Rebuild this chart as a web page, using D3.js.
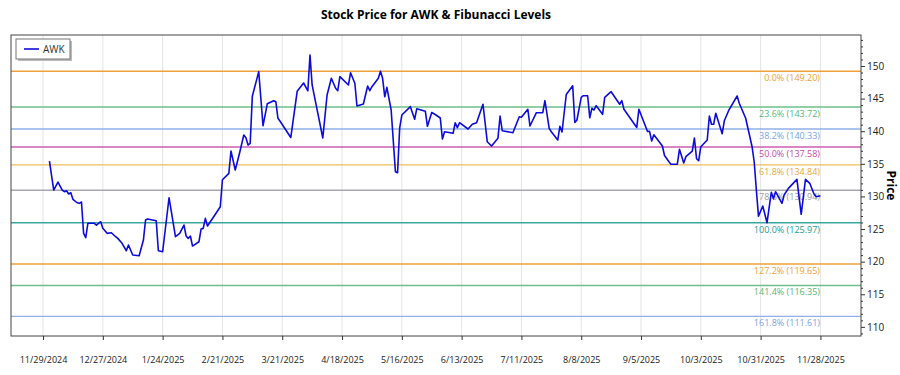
<!DOCTYPE html>
<html>
<head>
<meta charset="utf-8">
<script src="https://cdn.jsdelivr.net/npm/d3@7"></script>
<style>
body { margin: 0; background: #fff; }
text { font-family: "Segoe UI", "Open Sans", "Noto Sans", sans-serif; }
</style>
</head>
<body>
<script>
var w = 900;
var h = 375;

// daily closes
var dates = [
  "2024-12-02","2024-12-04","2024-12-06","2024-12-08","2024-12-09","2024-12-10","2024-12-11","2024-12-12","2024-12-13","2024-12-15",
  "2024-12-16","2024-12-17","2024-12-18","2024-12-19","2024-12-20","2024-12-23","2024-12-24","2024-12-26","2024-12-27","2024-12-29",
  "2024-12-31","2025-01-02","2025-01-03","2025-01-05","2025-01-07","2025-01-08","2025-01-10","2025-01-13","2025-01-15","2025-01-16",
  "2025-01-17","2025-01-21","2025-01-22","2025-01-24","2025-01-27","2025-01-30","2025-02-01","2025-02-03","2025-02-04","2025-02-05",
  "2025-02-06","2025-02-07","2025-02-10","2025-02-11","2025-02-12","2025-02-13","2025-02-14","2025-02-18","2025-02-20","2025-02-21",
  "2025-02-24","2025-02-25","2025-02-27","2025-03-01","2025-03-03","2025-03-04","2025-03-05","2025-03-06","2025-03-07","2025-03-10",
  "2025-03-12","2025-03-14","2025-03-17","2025-03-18","2025-03-19","2025-03-20","2025-03-25","2025-03-28","2025-03-31","2025-04-02",
  "2025-04-03","2025-04-04","2025-04-09","2025-04-11","2025-04-13","2025-04-15","2025-04-16","2025-04-17","2025-04-21","2025-04-22",
  "2025-04-24","2025-04-25","2025-04-28","2025-04-30","2025-05-01","2025-05-02","2025-05-05","2025-05-06","2025-05-07","2025-05-08",
  "2025-05-09","2025-05-11","2025-05-13","2025-05-14","2025-05-15","2025-05-16","2025-05-20","2025-05-22","2025-05-23","2025-05-27",
  "2025-05-28","2025-05-30","2025-06-01","2025-06-03","2025-06-04","2025-06-05","2025-06-09","2025-06-10","2025-06-11","2025-06-12",
  "2025-06-16","2025-06-18","2025-06-20","2025-06-23","2025-06-25","2025-06-27","2025-06-30","2025-07-01","2025-07-02","2025-07-07",
  "2025-07-10","2025-07-11","2025-07-14","2025-07-15","2025-07-18","2025-07-21","2025-07-22","2025-07-24","2025-07-25","2025-07-28",
  "2025-07-29","2025-07-30","2025-08-01","2025-08-04","2025-08-05","2025-08-06","2025-08-08","2025-08-09","2025-08-11","2025-08-12",
  "2025-08-13","2025-08-14","2025-08-15","2025-08-18","2025-08-19","2025-08-22","2025-08-26","2025-08-27","2025-08-28","2025-09-03",
  "2025-09-04","2025-09-08","2025-09-09","2025-09-10","2025-09-11","2025-09-15","2025-09-16","2025-09-18","2025-09-19","2025-09-22",
  "2025-09-23","2025-09-25","2025-09-26","2025-09-29","2025-09-30","2025-10-01","2025-10-02","2025-10-03","2025-10-06","2025-10-07",
  "2025-10-08","2025-10-09","2025-10-10","2025-10-13","2025-10-14","2025-10-16","2025-10-20","2025-10-21","2025-10-24","2025-10-27",
  "2025-10-28","2025-10-29","2025-10-30","2025-11-01","2025-11-03","2025-11-05","2025-11-06","2025-11-07","2025-11-10","2025-11-11",
  "2025-11-13","2025-11-17","2025-11-19","2025-11-21","2025-11-23","2025-11-25","2025-11-26","2025-11-28"
];
var prices = [
  135.43,130.98,132.20,130.98,130.72,130.87,130.37,130.57,129.56,129.03,
  128.94,129.14,124.34,123.67,125.88,125.88,125.61,126.12,125.11,124.34,
  124.43,123.82,123.57,122.81,121.67,122.55,121.01,120.91,123.31,126.38,
  126.53,126.27,121.67,121.52,129.80,123.82,124.34,125.61,123.93,123.57,
  123.93,122.39,123.05,125.00,125.10,126.64,125.46,127.41,128.42,132.56,
  133.54,136.96,134.05,136.61,139.42,139.00,137.88,138.14,145.37,149.13,
  140.83,144.20,144.68,144.52,141.98,141.53,139.03,146.12,147.39,146.20,
  151.69,147.09,138.96,145.55,148.11,146.58,146.21,148.36,147.09,148.97,
  147.35,143.87,144.17,146.93,146.21,146.83,148.11,149.20,148.11,145.29,
  146.73,143.25,133.79,133.64,140.52,142.48,143.76,141.83,143.45,143.07,
  140.75,142.87,142.48,142.02,138.80,139.92,139.68,141.30,140.54,141.30,
  140.34,141.06,141.30,144.13,138.39,137.73,138.91,142.33,140.08,139.77,
  142.22,142.13,143.36,140.80,142.84,142.84,144.68,140.44,139.92,138.65,
  140.75,139.88,145.63,146.96,141.33,141.72,145.20,145.44,145.44,142.07,
  143.51,143.25,143.91,142.59,145.20,146.06,144.13,144.68,143.36,140.57,
  143.37,139.98,139.98,138.50,139.46,137.73,136.27,135.35,134.94,134.94,
  137.22,135.12,136.09,136.93,138.96,135.78,135.48,137.62,138.65,142.33,
  141.07,141.07,142.75,139.62,141.60,143.14,145.40,144.28,141.98,137.62,
  135.28,130.98,126.95,128.53,125.97,130.64,129.63,130.72,128.94,130.22,
  131.24,132.62,127.26,132.62,132.01,130.37,129.95,130.11
];

var tickDates = ["2024-11-29","2024-12-27","2025-01-24","2025-02-21","2025-03-21","2025-04-18","2025-05-16",
                 "2025-06-13","2025-07-11","2025-08-08","2025-09-05","2025-10-03","2025-10-31","2025-11-28"];
var priceTicks = [110, 115, 120, 125, 130, 135, 140, 145, 150];

var fibPcts = ["0.0%", "23.6%", "38.2%", "50.0%", "61.8%", "78.6%", "100.0%", "127.2%", "141.4%", "161.8%"];
var fibValues = [149.20, 143.72, 140.33, 137.58, 134.84, 130.94, 125.97, 119.65, 116.35, 111.61];
var fibColors = ["#f0a13c", "#6cc08a", "#8fb0e8", "#cc5fb0", "#f0bd5a", "#a8a8b4", "#3aa6a0", "#f0a13c", "#6cc08a", "#8fb0e8"];
var fibTextColors = ["#f0a030", "#55b878", "#7aa2e6", "#c44aa6", "#e8a838", "#9a9aa4", "#229a94", "#f0a030", "#55b878", "#7aa2e6"];

var parse = d3.timeParse("%Y-%m-%d");
var fmt = d3.timeFormat("%-m/%-d/%Y");

var data = dates.map(function(d, i) { return {date: parse(d), price: prices[i]}; });

var plotL = 11, plotR = 861, plotT = 35, plotB = 336;

var svg = d3.select("body").append("svg")
    .attr("width", w)
    .attr("height", h);

var xScale = d3.scaleTime()
    .domain([parse("2024-11-14"), parse("2025-12-17")])
    .range([plotL, plotR]);

var yScale = d3.scaleLinear()
    .domain([108.6, 154.75])
    .range([plotB, plotT]);

// title
svg.append("text")
    .attr("x", (plotL + plotR) / 2)
    .attr("y", 19)
    .attr("text-anchor", "middle")
    .style("font-size", "12px")
    .style("font-weight", "bold")
    .text("Stock Price for AWK & Fibunacci Levels");

// vertical grid
svg.append("g")
  .selectAll("line")
  .data(tickDates)
  .enter().append("line")
    .attr("x1", function(d) { return xScale(parse(d)); })
    .attr("x2", function(d) { return xScale(parse(d)); })
    .attr("y1", plotT)
    .attr("y2", plotB)
    .attr("stroke", "#e4e4e4")
    .attr("stroke-width", 1);

// fib lines
svg.append("g")
  .selectAll("line")
  .data(fibValues)
  .enter().append("line")
    .attr("x1", plotL)
    .attr("x2", plotR)
    .attr("y1", function(d) { return yScale(d); })
    .attr("y2", function(d) { return yScale(d); })
    .attr("stroke", function(d, i) { return fibColors[i]; })
    .attr("stroke-width", 1.4);

// fib labels
svg.append("g")
  .selectAll("text")
  .data(fibValues)
  .enter().append("text")
    .attr("x", 820)
    .attr("y", function(d) { return yScale(d) + 10; })
    .attr("text-anchor", "end")
    .style("font-size", "9px")
    .attr("fill", function(d, i) { return fibTextColors[i]; })
    .text(function(d, i) { return fibPcts[i] + " (" + d.toFixed(2) + ")"; });

// price line
var line = d3.line()
    .x(function(d) { return xScale(d.date); })
    .y(function(d) { return yScale(d.price); });

svg.append("path")
    .datum(data)
    .attr("fill", "none")
    .attr("stroke", "#0c0cd8")
    .attr("stroke-width", 1.6)
    .attr("stroke-linejoin", "round")
    .attr("d", line);

// frame
svg.append("rect")
    .attr("x", plotL)
    .attr("y", plotT)
    .attr("width", plotR - plotL)
    .attr("height", plotB - plotT)
    .attr("fill", "none")
    .attr("stroke", "#444")
    .attr("stroke-width", 1);

// x axis
var xAxis = d3.axisBottom(xScale)
    .tickValues(tickDates.map(parse))
    .tickFormat(fmt)
    .tickSize(4)
    .tickPadding(17);

var gx = svg.append("g")
    .attr("transform", "translate(0," + plotB + ")")
    .call(xAxis);
gx.select(".domain").remove();
gx.selectAll("line").attr("stroke", "#333");
gx.selectAll("text")
    .style("font-size", "9px")
    .attr("fill", "#222")
    .style("font-family", "'Segoe UI', 'Open Sans', 'Noto Sans', sans-serif");

// y axis on the right, minor ticks
var minor = d3.range(109, 155, 1).filter(function(v) { return v % 5 !== 0; });
svg.append("g")
    .attr("transform", "translate(" + plotR + ",0)")
    .call(d3.axisRight(yScale).tickValues(minor).tickSize(2).tickFormat(""))
    .call(function(g) { g.select(".domain").remove(); g.selectAll("line").attr("stroke", "#333"); });

var gy = svg.append("g")
    .attr("transform", "translate(" + plotR + ",0)")
    .call(d3.axisRight(yScale).tickValues(priceTicks).tickSize(4).tickPadding(2));
gy.select(".domain").remove();
gy.selectAll("line").attr("stroke", "#333");
gy.selectAll("text")
    .style("font-size", "10px")
    .attr("fill", "#222")
    .style("font-family", "'Segoe UI', 'Open Sans', 'Noto Sans', sans-serif");

svg.append("text")
    .attr("transform", "translate(887," + (plotT + plotB) / 2 + ") rotate(90)")
    .attr("text-anchor", "middle")
    .style("font-size", "12px")
    .style("font-weight", "bold")
    .text("Price");

// legend
var lg = svg.append("g").attr("transform", "translate(16,39)");
lg.append("rect")
    .attr("x", 2).attr("y", 2)
    .attr("width", 54).attr("height", 20)
    .attr("fill", "#bbb");
lg.append("rect")
    .attr("width", 54).attr("height", 20)
    .attr("fill", "#fff")
    .attr("stroke", "#777");
lg.append("line")
    .attr("x1", 8).attr("x2", 23)
    .attr("y1", 10).attr("y2", 10)
    .attr("stroke", "#0c0cd8")
    .attr("stroke-width", 1.6);
lg.append("text")
    .attr("x", 27).attr("y", 14)
    .style("font-size", "10px")
    .attr("fill", "#333")
    .text("AWK");
</script>
</body>
</html>
